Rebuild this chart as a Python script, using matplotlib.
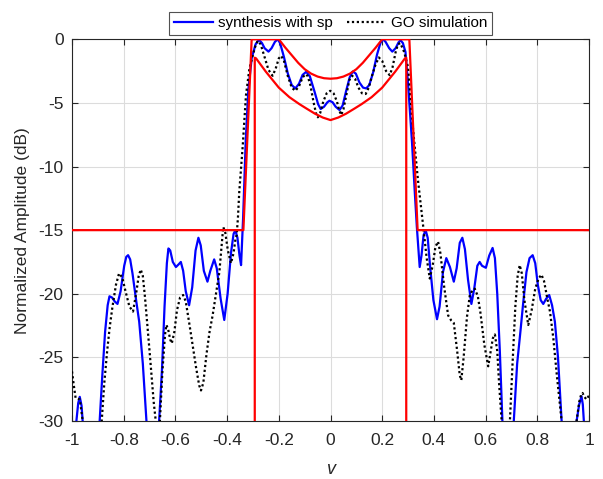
import numpy as np
import matplotlib
matplotlib.use('Agg')
import matplotlib.pyplot as plt

plt.rcParams['font.family'] = ['Liberation Sans', 'DejaVu Sans']
plt.rcParams['axes.unicode_minus'] = False

# synthesis with sp (blue)
u_syn = [-0.99, -0.983, -0.976, -0.970, -0.963, -0.957, -0.945, -0.92, -0.893, -0.883,
         -0.872, -0.862, -0.855, -0.845, -0.835, -0.824, -0.812, -0.798, -0.790, -0.783,
         -0.775, -0.766, -0.752, -0.740, -0.726, -0.712, -0.69, -0.663, -0.652, -0.642,
         -0.633, -0.627, -0.620, -0.610, -0.598, -0.588, -0.579, -0.570, -0.560, -0.547,
         -0.535, -0.522, -0.511, -0.502, -0.490, -0.476, -0.465, -0.450, -0.440, -0.425,
         -0.411, -0.398, -0.385, -0.375, -0.368, -0.360, -0.352, -0.346, -0.338, -0.328,
         -0.318, -0.305, -0.290, -0.280, -0.275, -0.265, -0.255, -0.240, -0.228, -0.215,
         -0.204, -0.195, -0.180, -0.165, -0.150, -0.136, -0.122, -0.108, -0.094, -0.080,
         -0.062, -0.048, -0.038, -0.025, -0.012, -0.004, 0.008, 0.020, 0.035, 0.047,
         0.060, 0.074, 0.086, 0.098, 0.112, 0.126, 0.138, 0.150, 0.165, 0.180,
         0.193, 0.203, 0.213, 0.227, 0.239, 0.252, 0.263, 0.271, 0.280, 0.290,
         0.300, 0.315, 0.326, 0.334, 0.340, 0.345, 0.352, 0.360, 0.368, 0.376,
         0.385, 0.398, 0.412, 0.422, 0.435, 0.448, 0.462, 0.477, 0.488, 0.500,
         0.510, 0.520, 0.532, 0.545, 0.556, 0.568, 0.577, 0.586, 0.601, 0.614,
         0.627, 0.636, 0.645, 0.655, 0.665, 0.69, 0.709, 0.722, 0.735, 0.745,
         0.758, 0.770, 0.782, 0.792, 0.802, 0.813, 0.823, 0.834, 0.846, 0.857,
         0.868, 0.880, 0.894, 0.92, 0.952, 0.962, 0.971, 0.976, 0.980, 0.99, 1.0]
db_syn = [-33, -30.0, -28.6, -28.1, -28.8, -30.5, -35, -38, -30, -26.5,
          -23.0, -20.9, -20.2, -20.3, -20.6, -20.8, -19.8, -17.8, -17.1, -16.97,
          -17.3, -18.4, -20.5, -22.2, -25.5, -30, -38, -30, -26, -21,
          -17.6, -16.44, -16.6, -17.5, -17.9, -17.7, -17.5, -18.2, -19.8, -20.9,
          -19.5, -16.6, -15.6, -16.2, -18.2, -19.05, -18.2, -17.3, -18.0, -20.4,
          -22.06, -20.0, -16.8, -15.3, -15.0, -15.6, -17.0, -17.75, -14, -8,
          -4, -1.5, -0.4, -0.12, -0.08, -0.3, -0.7, -0.97, -0.7, -0.2,
          0.0, -0.3, -1.4, -2.7, -3.6, -3.86, -3.5, -2.8, -2.56, -2.9,
          -4.1, -5.1, -5.48, -5.3, -4.95, -4.83, -4.95, -5.3, -5.56, -5.2,
          -4.1, -3.0, -2.53, -2.7, -3.4, -3.8, -3.86, -3.6, -2.6, -1.2,
          -0.3, 0.0, -0.2, -0.7, -0.97, -0.7, -0.25, -0.08, -0.3, -1.0,
          -3.5, -8, -12, -14.75, -16.5, -17.9, -17.0, -15.4, -15.0, -15.6,
          -17.8, -20.5, -22.0, -21.0, -18.3, -17.2, -17.9, -19.05, -18.0, -16.0,
          -15.6, -16.5, -18.9, -20.8, -19.6, -17.8, -17.5, -17.8, -17.96, -17.0,
          -16.4, -17.2, -20.0, -24.5, -30, -38, -30, -25.5, -22.9, -20.8,
          -18.3, -17.2, -16.97, -17.6, -19.3, -20.5, -20.8, -20.4, -20.1, -20.9,
          -22.2, -25.0, -30, -38, -30, -28.7, -28.06, -28.7, -30, -34, -36]

# GO simulation (black dotted)
u_go = [-1.0, -0.993, -0.986, -0.970, -0.955, -0.93, -0.885, -0.875, -0.864, -0.854,
        -0.844, -0.830, -0.818, -0.806, -0.793, -0.778, -0.764, -0.752, -0.742, -0.734,
        -0.726, -0.718, -0.700, -0.684, -0.676, -0.668, -0.660, -0.650, -0.640, -0.635,
        -0.628, -0.620, -0.614, -0.604, -0.594, -0.582, -0.570, -0.560, -0.545, -0.530,
        -0.520, -0.508, -0.501, -0.492, -0.480, -0.468, -0.456, -0.443, -0.430, -0.421,
        -0.415, -0.407, -0.397, -0.385, -0.375, -0.367, -0.363, -0.358, -0.353, -0.340,
        -0.327, -0.314, -0.300, -0.290, -0.282, -0.270, -0.255, -0.240, -0.224, -0.212,
        -0.200, -0.191, -0.180, -0.165, -0.150, -0.136, -0.122, -0.108, -0.096, -0.088,
        -0.078, -0.065, -0.055, -0.049, -0.040, -0.028, -0.015, -0.001, 0.012, 0.025,
        0.034, 0.041, 0.050, 0.062, 0.073, 0.084, 0.095, 0.108, 0.122, 0.136,
        0.148, 0.160, 0.174, 0.187, 0.200, 0.215, 0.229, 0.240, 0.252, 0.261,
        0.270, 0.285, 0.300, 0.319, 0.338, 0.358, 0.372, 0.384, 0.395, 0.406,
        0.416, 0.425, 0.440, 0.455, 0.467, 0.477, 0.490, 0.500, 0.506, 0.515,
        0.528, 0.539, 0.550, 0.558, 0.570, 0.580, 0.595, 0.610, 0.620, 0.628,
        0.636, 0.645, 0.652, 0.662, 0.68, 0.694, 0.703, 0.715, 0.724, 0.732,
        0.740, 0.750, 0.765, 0.778, 0.792, 0.805, 0.816, 0.826, 0.838, 0.849,
        0.862, 0.876, 0.894, 0.92, 0.952, 0.962, 0.970, 0.975, 0.982, 0.990, 1.0]
db_go = [-26.1, -27.2, -28.2, -28.3, -30.5, -38, -30, -27.0, -24.5, -22.6,
         -21.1, -19.3, -18.4, -18.7, -19.8, -21.0, -21.4, -20.0, -18.6, -18.1,
         -18.6, -20.2, -24.5, -28.5, -30, -31, -30, -26.0, -23.2, -22.45,
         -22.8, -23.6, -23.9, -23.0, -21.3, -20.3, -20.1, -20.6, -22.5, -24.5,
         -25.8, -27.2, -27.6, -27.0, -24.8, -23.0, -21.7, -20.0, -18.3, -16.2,
         -14.75, -15.2, -16.6, -17.6, -16.8, -15.6, -15.4, -14.0, -12.0, -8.5,
         -4.4, -2.35, -1.2, -0.5, -0.13, -0.4, -1.4, -2.4, -2.87, -2.3,
         -1.5, -1.3, -1.7, -2.9, -3.8, -4.05, -3.7, -3.0, -2.74, -2.9,
         -3.6, -5.0, -5.9, -6.13, -5.8, -4.9, -4.25, -4.05, -4.25, -4.9,
         -5.6, -5.95, -5.5, -4.3, -3.2, -2.87, -3.1, -3.8, -4.25, -4.3,
         -3.8, -2.9, -2.0, -1.43, -1.7, -2.5, -2.82, -2.2, -1.0, -0.39,
         -0.3, -1.0, -2.2, -7.0, -11.0, -14.6, -17.2, -18.8, -17.8, -16.3,
         -15.9, -16.8, -19.5, -21.7, -22.1, -22.3, -24.5, -26.4, -26.8, -25.0,
         -21.8, -20.1, -19.7, -19.6, -20.2, -21.5, -24.0, -25.7, -24.5, -23.5,
         -23.2, -24.5, -27.0, -30, -34, -30, -26.0, -21.0, -18.6, -17.75,
         -18.4, -20.5, -22.45, -21.3, -19.6, -18.8, -18.5, -19.0, -20.3, -21.4,
         -23.5, -26.5, -30, -38, -30, -28.5, -27.9, -27.8, -28.1, -28.3, -28.0]

# mask limits (red)
u_mask_up = [-1.0, -0.337, -0.305, -0.200, -0.175, -0.150, -0.125, -0.100, -0.075, -0.050,
             -0.025, 0.0, 0.025, 0.050, 0.075, 0.100, 0.125, 0.150, 0.175, 0.200,
             0.305, 0.337, 1.0]
db_mask_up = [-15, -15, 0, 0, -0.65, -1.25, -1.85, -2.35, -2.7, -2.93,
              -3.06, -3.1, -3.06, -2.93, -2.7, -2.35, -1.85, -1.25, -0.65, 0,
              0, -15, -15]
u_mask_lo = [-0.293, -0.293, -0.288, -0.270, -0.250, -0.224, -0.200, -0.159, -0.120, -0.094,
             -0.060, -0.030, 0.0, 0.030, 0.060, 0.094, 0.120, 0.159, 0.200, 0.224,
             0.250, 0.270, 0.288, 0.293, 0.293]
db_mask_lo = [-31, -1.45, -1.5, -2.0, -2.55, -3.2, -3.8, -4.55, -5.1, -5.43,
              -5.85, -6.15, -6.35, -6.15, -5.85, -5.43, -5.1, -4.55, -3.8, -3.2,
              -2.55, -2.0, -1.5, -1.45, -31]

x_ticks = [-1, -0.8, -0.6, -0.4, -0.2, 0, 0.2, 0.4, 0.6, 0.8, 1]
x_tick_labels = ['-1', '-0.8', '-0.6', '-0.4', '-0.2', '0', '0.2', '0.4', '0.6', '0.8', '1']
y_ticks = [-30, -25, -20, -15, -10, -5, 0]

fig = plt.figure(figsize=(6.03, 4.79), dpi=100)
ax = fig.add_axes([0.1194, 0.1211, 0.8574, 0.7969])

ax.plot(u_syn, db_syn, color='#0000ff', lw=1.6, label='synthesis with sp', zorder=3)
ax.plot(u_go, db_go, color='black', lw=1.6, ls=(0, (1, 1.2)), label='GO simulation', zorder=4)
ax.plot(u_mask_up, db_mask_up, color='#ff0000', lw=1.6, zorder=5)
ax.plot(u_mask_lo, db_mask_lo, color='#ff0000', lw=1.6, zorder=5)

ax.set_xlim(-1, 1)
ax.set_ylim(-30, 0)
ax.set_xticks(x_ticks)
ax.set_xticklabels(x_tick_labels)
ax.set_yticks(y_ticks)
ax.grid(True, color='#dcdcdc', lw=0.8)
ax.set_axisbelow(True)
ax.tick_params(direction='in', top=True, right=True, labelsize=12.5, length=4,
               colors='#262626', width=0.8)
ax.tick_params(axis='x', pad=9)
ax.tick_params(axis='y', pad=6)
for sp in ax.spines.values():
    sp.set_color('#262626')
    sp.set_linewidth(0.8)

ax.set_xlabel('v', fontsize=13, fontstyle='italic', color='#262626', labelpad=9)
ax.set_ylabel('Normalized Amplitude (dB)', fontsize=12.5, color='#262626', labelpad=6)

leg = ax.legend(loc='lower center', bbox_to_anchor=(0.5, 1.0), ncol=2, fontsize=11,
                frameon=True, fancybox=False, borderpad=0.3, handlelength=2.6,
                handletextpad=0.3, columnspacing=0.9, borderaxespad=0.3)
leg.get_frame().set_edgecolor('#262626')
leg.get_frame().set_linewidth(0.8)

fig.savefig('out.png', dpi=100)
